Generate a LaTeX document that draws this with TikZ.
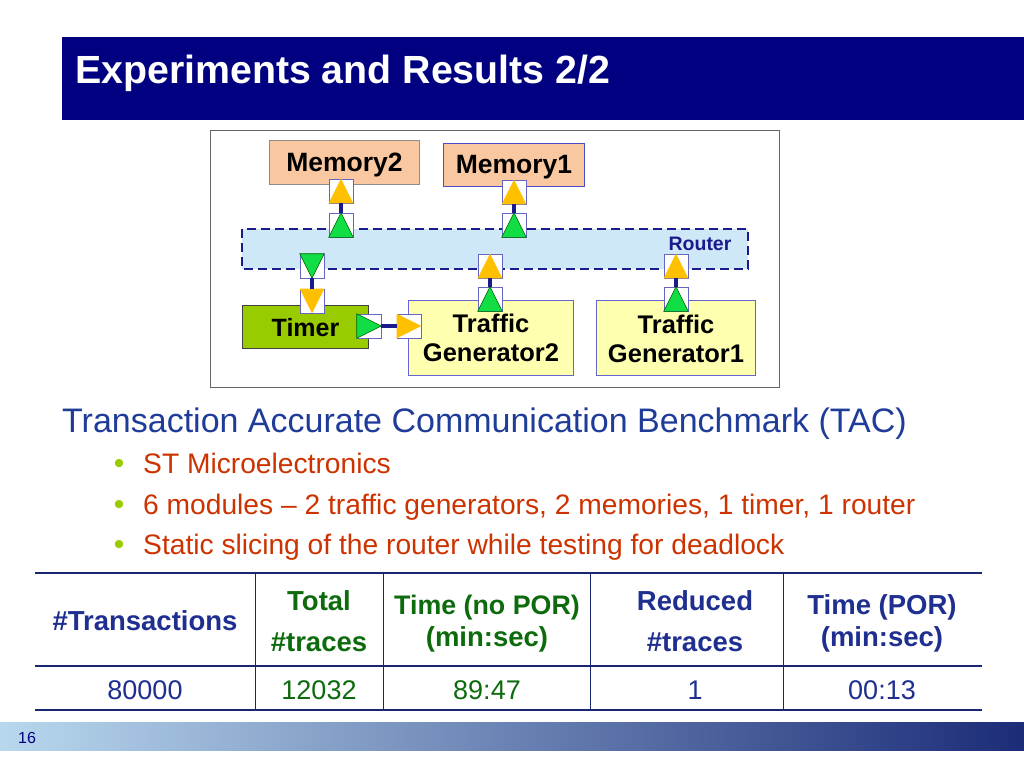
\documentclass[tikz,border=0pt]{standalone}
\usepackage{fontspec}
\setmainfont{Liberation Sans}
\definecolor{titlenavy}{HTML}{000080}
\definecolor{peach}{HTML}{FAC8A0}
\definecolor{routerfill}{HTML}{CFE8F8}
\definecolor{dnavy}{HTML}{1A1A8C}
\definecolor{timerfill}{HTML}{99CC00}
\definecolor{tgfill}{HTML}{FFFFB0}
\definecolor{portyellow}{HTML}{FFC000}
\definecolor{portgreen}{HTML}{11DD44}
\definecolor{tacblue}{HTML}{1F3C99}
\definecolor{itemred}{HTML}{CC3300}
\definecolor{bulletgreen}{HTML}{99CC00}
\definecolor{tabnavy}{HTML}{1F2F8F}
\definecolor{tabgreen}{HTML}{0D6B0D}
\definecolor{footleft}{HTML}{B8D8EE}
\definecolor{footmid}{HTML}{8AA0B8}
\definecolor{footright}{HTML}{1C2C78}
\tikzset{
  box/.style={draw=#1, line width=1pt, inner sep=0pt, anchor=north west},
  modlabel/.style={font=\bfseries\fontsize{26.5}{29}\selectfont, align=center},
  tglabel/.style={font=\bfseries\fontsize{25.5}{29}\selectfont, align=center},
  portsq/.style={draw=black!40!blue!60, fill=white, line width=0.6pt, minimum size=24pt, inner sep=0pt},
  ytri/.style={fill=portyellow},
  gtri/.style={fill=portgreen, draw=black!60!green, line width=0.6pt},
  conn/.style={draw=dnavy, line width=3.5pt},
  tabline/.style={draw=tabnavy!80!black, line width=1.3pt},
  hdr/.style={font=\bfseries\fontsize{27.5}{32}\selectfont, anchor=base},
  cell/.style={font=\fontsize{27}{32}\selectfont, anchor=base},
  item/.style={font=\fontsize{28.2}{32}\selectfont, text=itemred, anchor=base west, inner sep=0pt},
  bul/.style={font=\fontsize{30}{32}\selectfont, text=bulletgreen, anchor=base}
}
\newcommand\portU[4]{\node[portsq] (#1) at (#2,#3) {};
  \path[#4] (#1.south west) -- (#1.south east) -- (#1.north) -- cycle;}
\newcommand\portD[4]{\node[portsq] (#1) at (#2,#3) {};
  \path[#4] (#1.north west) -- (#1.north east) -- (#1.south) -- cycle;}
\newcommand\portR[4]{\node[portsq] (#1) at (#2,#3) {};
  \path[#4] (#1.north west) -- (#1.south west) -- (#1.east) -- cycle;}
\begin{document}
\begin{tikzpicture}[x=1pt,y=-1pt]
\useasboundingbox (0,0) rectangle (1024,768);
\fill[white] (0,0) rectangle (1024,768);
% title
\fill[titlenavy] (62,37) rectangle (1024,120);
\node[anchor=base west, text=white, font=\bfseries\fontsize{39.3}{44}\selectfont, inner sep=0pt] (title) at (75,83) {Experiments and Results 2/2};
% diagram frame
\draw[black!60, line width=1pt] (210,130) rectangle (779,387);
% router
\path[fill=routerfill, draw=dnavy, line width=2pt, dash pattern=on 9pt off 5pt] (242,229) rectangle (748,269);
\node[font=\bfseries\fontsize{19.5}{22}\selectfont, text=dnavy] (routerlbl) at (700,244) {Router};
% modules
\node[box=black!45, fill=peach, minimum width=150pt, minimum height=44pt] (mem2) at (269,140) {};
\node[modlabel] (mem2lbl) at ([yshift=-2pt]mem2.center) {Memory2};
\node[box=black!30!blue!70, fill=peach, minimum width=141pt, minimum height=43pt] (mem1) at (443,143) {};
\node[modlabel] (mem1lbl) at ([yshift=-2pt]mem1.center) {Memory1};
\node[box=black!75, fill=timerfill, minimum width=126pt, minimum height=43pt] (timer) at (242,305) {};
\node[modlabel, font=\bfseries\fontsize{25}{29}\selectfont] (timerlbl) at ([yshift=-1pt]timer.center) {Timer};
\node[box=black!30!blue!60, fill=tgfill, minimum width=165pt, minimum height=75pt] (tg2) at (408,300) {};
\node[tglabel] (tg2lbl) at (tg2.center) {Traffic\\Generator2};
\node[box=black!30!blue!60, fill=tgfill, minimum width=159pt, minimum height=75pt] (tg1) at (596,300) {};
\node[tglabel] (tg1lbl) at ([yshift=-1pt]tg1.center) {Traffic\\Generator1};
% ports
\portU{m2a}{341}{191}{ytri}
\portU{m2b}{341}{225}{gtri}
\portU{m1a}{514}{192}{ytri}
\portU{m1b}{514}{225}{gtri}
\portD{td1}{312}{266}{gtri}
\portD{td2}{312}{301}{ytri}
\portR{tr1}{369}{326}{gtri}
\portR{tr2}{409}{326}{ytri}
\portU{g2a}{490}{266}{ytri}
\portU{g2b}{490}{299}{gtri}
\portU{g1a}{676}{266}{ytri}
\portU{g1b}{676}{299}{gtri}
% connectors
\draw[conn] (m2a) -- (m2b);
\draw[conn] (m1a) -- (m1b);
\draw[conn] (td1) -- (td2);
\draw[conn] (tr1) -- (tr2);
\draw[conn] (g2a) -- (g2b);
\draw[conn] (g1a) -- (g1b);
% text
\node[anchor=base west, text=tacblue, font=\fontsize{34}{38}\selectfont, inner sep=0pt] (tac) at (62,432) {Transaction Accurate Communication Benchmark (TAC)};
\node[bul] (b1) at (119,473) {•};
\node[bul] (b2) at (119,514) {•};
\node[bul] (b3) at (119,554) {•};
\node[item] (i1) at (143,473) {ST Microelectronics};
\node[item] (i2) at (143,514) {6 modules – 2 traffic generators, 2 memories, 1 timer, 1 router};
\node[item] (i3) at (143,554) {Static slicing of the router while testing for deadlock};
% table
\draw[tabline] (35,573) -- (982,573);
\draw[tabline] (35,666) -- (982,666);
\draw[tabline] (35,710) -- (982,710);
\foreach \xx in {255,383,590,783} \draw[tabline, line width=1pt] (\xx,573) -- (\xx,710);
\node[hdr, text=tabnavy] (h1) at (145,630) {\#Transactions};
\node[hdr, text=tabgreen] (h2a) at (319,610) {Total};
\node[hdr, text=tabgreen] (h2b) at (319,651) {\#traces};
\node[hdr, text=tabgreen, font=\bfseries\fontsize{26.8}{32}\selectfont] (h3a) at (487,614) {Time (no POR)};
\node[hdr, text=tabgreen] (h3b) at (487,646) {(min:sec)};
\node[hdr, text=tabnavy] (h4a) at (695,610) {Reduced};
\node[hdr, text=tabnavy] (h4b) at (695,651) {\#traces};
\node[hdr, text=tabnavy] (h5a) at (882,614) {Time (POR)};
\node[hdr, text=tabnavy] (h5b) at (882,646) {(min:sec)};
\node[cell, text=tabnavy] (c1) at (145,699) {80000};
\node[cell, text=tabgreen] (c2) at (319,699) {12032};
\node[cell, text=tabgreen] (c3) at (487,699) {89:47};
\node[cell, text=tabnavy] (c4) at (695,699) {1};
\node[cell, text=tabnavy] (c5) at (882,699) {00:13};
% footer
\shade[left color=footleft, middle color=footmid, right color=footright] (0,722) rectangle (1024,750);
\node[anchor=base west, text=titlenavy, font=\fontsize{16}{18}\selectfont, inner sep=0pt] (pg) at (18,743) {16};
\end{tikzpicture}
\end{document}
